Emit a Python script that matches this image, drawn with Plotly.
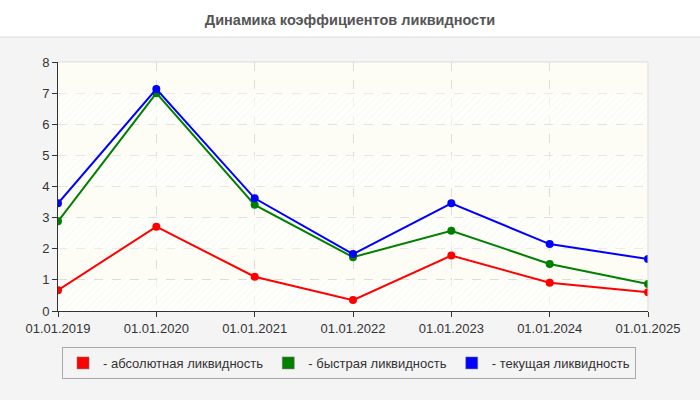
import plotly.graph_objects as go

dates = ["01.01.2019", "01.01.2020", "01.01.2021", "01.01.2022", "01.01.2023", "01.01.2024", "01.01.2025"]
absolute = [0.67, 2.71, 1.10, 0.35, 1.78, 0.91, 0.60]
quick = [2.88, 7.00, 3.41, 1.73, 2.58, 1.51, 0.87]
current = [3.46, 7.13, 3.62, 1.83, 3.46, 2.15, 1.67]
y_ticks = [0, 1, 2, 3, 4, 5, 6, 7, 8]
hatch_band_starts = [0, 2, 4, 6]

series = [
    ("- абсолютная ликвидность", absolute, "#ff0000"),
    ("- быстрая ликвидность", quick, "#008000"),
    ("- текущая ликвидность", current, "#0000ff"),
]

W, H = 700, 400
L, R, T, B = 58, 52, 62, 89
pw, ph = W - L - R, H - T - B

def px(x):
    return (x - L) / pw

def py(y):
    return (H - B - y) / ph

fig = go.Figure()

# decorative hatched background bands
for b in hatch_band_starts:
    fig.add_trace(go.Bar(x=dates, y=[1] * len(dates), base=[b] * len(dates), width=1.0,
                         marker=dict(color="rgba(255,255,255,0.55)", line=dict(width=0),
                                     pattern=dict(shape="/", fgcolor="rgba(215,215,215,0.6)",
                                                  size=5, solidity=0.15)),
                         showlegend=False, hoverinfo="skip"))

for name, vals, col in series:
    fig.add_trace(go.Scatter(x=dates, y=vals, mode="lines+markers", name=name,
                             line=dict(color=col, width=2), marker=dict(color=col, size=8),
                             showlegend=False, hoverinfo="x+y"))
for name, vals, col in series:
    fig.add_trace(go.Bar(x=[None], y=[None], name=name,
                         marker=dict(color=col, line=dict(color="#777", width=0.5)),
                         showlegend=True))

fig.update_layout(
    width=W, height=H,
    margin=dict(l=L, r=R, t=T, b=B),
    barmode="overlay",
    paper_bgcolor="#f4f4f4",
    plot_bgcolor="#fdfdf6",
    font=dict(family="Liberation Sans, Arial, sans-serif", size=13, color="#333"),
    title=dict(text="<b>Динамика коэффициентов ликвидности</b>", x=0.5, xanchor="center",
               y=1 - 20 / H, yanchor="middle", font=dict(size=14.5, color="#555")),
    showlegend=True,
    legend=dict(orientation="h", x=px(349), xanchor="center", y=py(347), yanchor="top",
                bordercolor="#aaaaaa", borderwidth=1, bgcolor="#f4f4f4",
                font=dict(size=13, color="#333"), itemwidth=30, tracegroupgap=0),
    xaxis=dict(type="category", range=[0, 6], showgrid=True, gridcolor="#dddddd", griddash="dash",
               showline=True, linecolor="#333", linewidth=1, ticks="outside", ticklen=5, tickcolor="#333",
               tickfont=dict(size=13, color="#333"), zeroline=False, fixedrange=True),
    yaxis=dict(range=[0, 8], tickvals=y_ticks, showgrid=True, gridcolor="#dddddd", griddash="dash",
               showline=True, linecolor="#333", linewidth=1, ticks="outside", ticklen=5, tickcolor="#333",
               tickfont=dict(size=13, color="#333"), zeroline=False, fixedrange=True),
    shapes=[
        dict(type="rect", xref="paper", yref="paper", x0=px(-5), x1=px(705), y0=py(37), y1=py(-5),
             fillcolor="white", line=dict(width=0), layer="below"),
        dict(type="line", xref="paper", yref="paper", x0=px(0), x1=px(700), y0=py(37), y1=py(37),
             line=dict(color="#dddddd", width=1)),
        dict(type="line", xref="paper", yref="paper", x0=0, x1=1, y0=1, y1=1,
             line=dict(color="#dddddd", width=1)),
        dict(type="line", xref="paper", yref="paper", x0=1, x1=1, y0=0, y1=1,
             line=dict(color="#dddddd", width=1)),
    ],
)

fig.write_html("out.html", config={"displayModeBar": False},
               post_script="document.body.style.margin='0';")
